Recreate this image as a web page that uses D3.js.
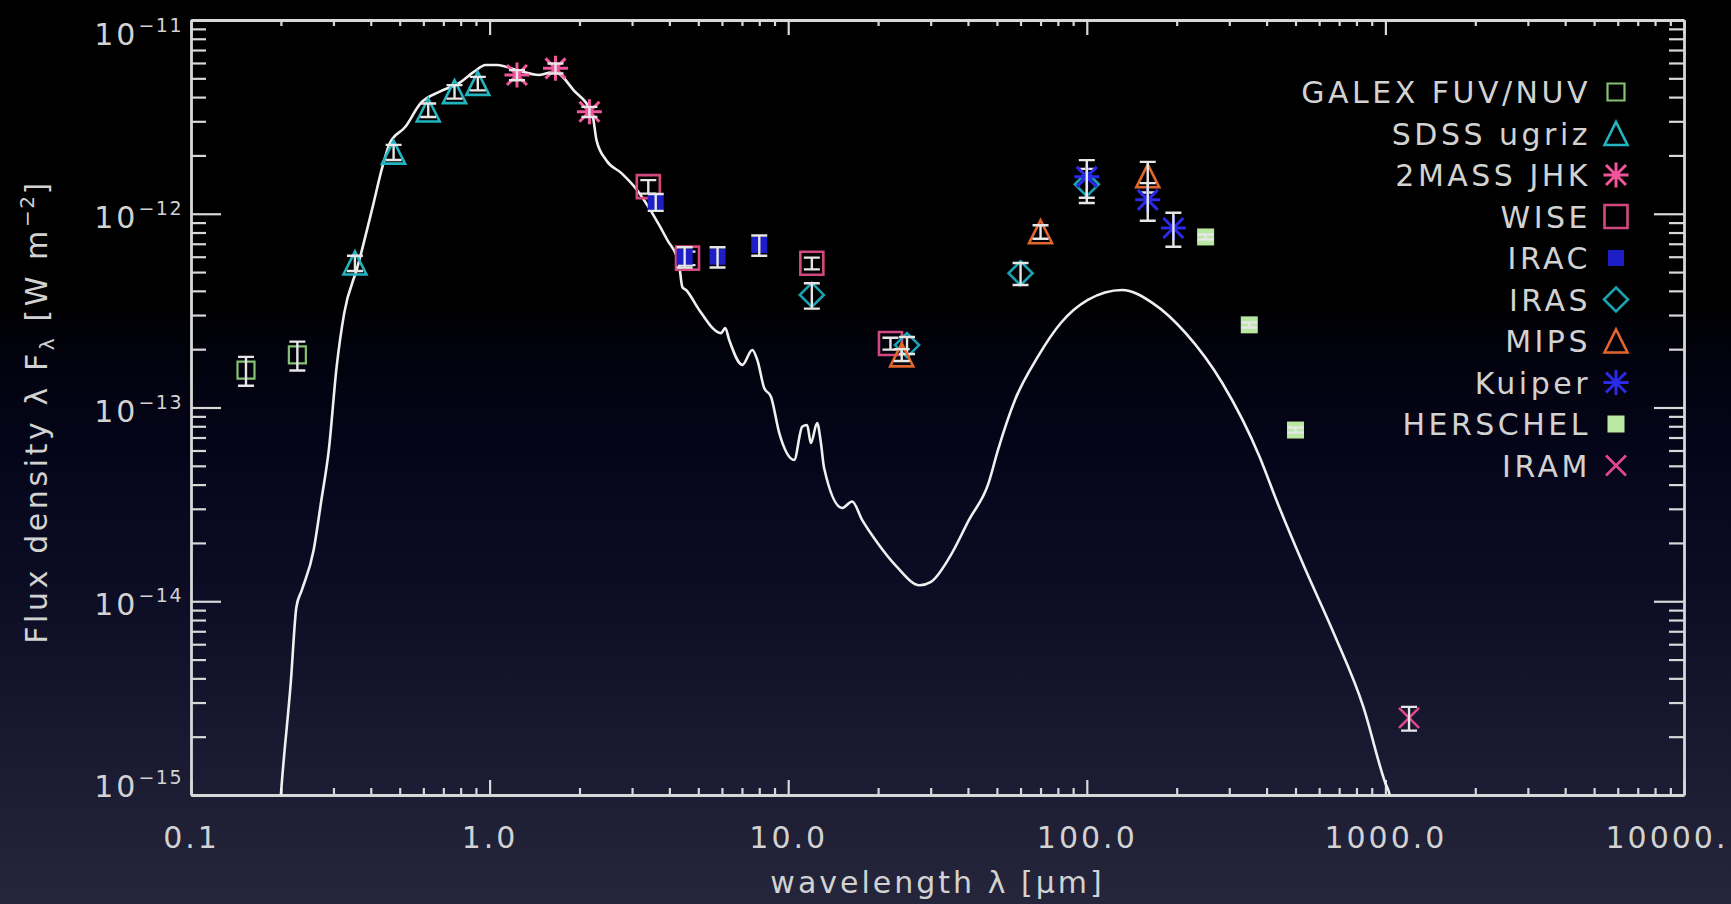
<!DOCTYPE html>
<html><head><meta charset="utf-8">
<script src="https://cdn.jsdelivr.net/npm/d3@7"></script>
<style>
html,body{margin:0;padding:0;background:#000;overflow:hidden;}
svg{display:block;}
</style></head>
<body>
<svg id="chart" width="1731" height="904"></svg>
<script>
// ================= DATA =================
// wavelength in micron, flux density lambda*F_lambda in W m^-2, err = relative error
const galexWave = [0.1528, 0.2271];
const galexFlux = [1.56e-13, 1.87e-13];
const galexErr  = [0.17, 0.17];

const sdssWave = [0.354, 0.477, 0.623, 0.763, 0.913];
const sdssFlux = [5.57e-13, 2.08e-12, 3.43e-12, 4.27e-12, 4.71e-12];
const sdssErr  = [0.09, 0.09, 0.08, 0.08, 0.08];

const twomassWave = [1.235, 1.662, 2.159];
const twomassFlux = [5.20e-12, 5.63e-12, 3.36e-12];
const twomassErr  = [0.06, 0.06, 0.06];

const wiseWave = [3.4, 4.6, 12, 22];
const wiseFlux = [1.38e-12, 5.9e-13, 5.55e-13, 2.14e-13];
const wiseErr  = [0.08, 0.08, 0.07, 0.07];

const iracWave = [3.6, 4.5, 5.8, 8.0];
const iracFlux = [1.15e-12, 6.0e-13, 6.0e-13, 6.9e-13];
const iracErr  = [0.10, 0.12, 0.12, 0.12];

const irasWave = [12, 25, 60, 100];
const irasFlux = [3.81e-13, 2.10e-13, 4.93e-13, 1.42e-12];
const irasErr  = [0.15, 0.10, 0.13, 0.20];

const mipsWave = [24, 70, 160];
const mipsFlux = [1.87e-13, 8.08e-13, 1.57e-12];
const mipsErr  = [0.07, 0.08, 0.18];

const kuiperWave = [100, 160, 195];
const kuiperFlux = [1.55e-12, 1.18e-12, 8.44e-13];
const kuiperErr  = [0.22, 0.22, 0.20];

const herschelWave = [250, 350, 500];
const herschelFlux = [7.59e-13, 2.67e-13, 7.65e-14];
const herschelErr  = [0.03, 0.03, 0.03];

const iramWave = [1200];
const iramFlux = [2.50e-15];
const iramErr  = [0.14];

// model SED (white curve)
const modelWave = [0.198, 0.200, 0.2158, 0.2255, 0.2350, 0.2575, 0.2733, 0.2894, 0.3074, 0.3258,
  0.3613, 0.4062, 0.4377, 0.463, 0.5224, 0.5877, 0.6805, 0.7876, 0.8876, 0.9696,
  1.059, 1.227, 1.465, 1.650, 1.910, 2.211, 2.280, 2.458, 2.764, 3.112,
  3.501, 3.937, 4.302, 4.42, 4.55, 5.04, 5.955, 6.155, 6.345, 7.02,
  7.58, 7.88, 8.31, 8.75, 9.33, 10.47, 11.14, 11.57, 11.91, 12.50,
  12.87, 13.19, 15.16, 16.37, 17.68, 19.92, 23.08, 27.55, 30.08, 34.81,
  40.31, 46.84, 50.40, 57.43, 68.57, 81.85, 100.8, 131.3, 166.2, 214.4,
  284.9, 378.9, 431.3, 534.4, 671.6, 843.6, 1000, 1030, 1045];
const modelFlux = [8.0e-16, 1.0e-15, 3.79e-15, 9.37e-15, 1.14e-14, 1.84e-14, 3.33e-14, 6.03e-14, 1.62e-13, 3.06e-13,
  5.33e-13, 1.09e-12, 1.75e-12, 2.31e-12, 2.81e-12, 3.72e-12, 4.27e-12, 4.71e-12, 5.41e-12, 5.86e-12,
  5.86e-12, 5.52e-12, 5.20e-12, 5.41e-12, 4.35e-12, 3.23e-12, 2.40e-12, 1.89e-12, 1.62e-12, 1.33e-12,
  1.01e-12, 7.32e-13, 5.57e-13, 4.19e-13, 4.04e-13, 3.18e-13, 2.42e-13, 2.57e-13, 2.23e-13, 1.66e-13,
  1.98e-13, 1.76e-13, 1.26e-13, 1.14e-13, 7.39e-14, 5.36e-14, 7.96e-14, 8.12e-14, 6.56e-14, 8.32e-14,
  6.56e-14, 4.87e-14, 3.03e-14, 3.27e-14, 2.63e-14, 2.00e-14, 1.51e-14, 1.21e-14, 1.26e-14, 1.70e-14,
  2.63e-14, 4.06e-14, 6.03e-14, 1.09e-13, 1.83e-13, 2.73e-13, 3.59e-13, 4.04e-13, 3.46e-13, 2.42e-13,
  1.33e-13, 5.57e-14, 3.33e-14, 1.51e-14, 6.83e-15, 2.85e-15, 1.15e-15, 1.02e-15, 9.0e-16];

const legendLabels = ["GALEX FUV/NUV", "SDSS ugriz", "2MASS JHK", "WISE", "IRAC",
                      "IRAS", "MIPS", "Kuiper", "HERSCHEL", "IRAM"];

const xTickValues = [0.1, 1, 10, 100, 1000, 10000];
const xTickLabels = ["0.1", "1.0", "10.0", "100.0", "1000.0", "10000."];
const yTickValues = [1e-15, 1e-14, 1e-13, 1e-12, 1e-11];
const yTickExponents = ["\u221215", "\u221214", "\u221213", "\u221212", "\u221211"];

const xTitle = "wavelength \u03bb [\u03bcm]";

// ================= STYLE =================
const series = [
  {wave: galexWave, flux: galexFlux, err: galexErr},
  {wave: sdssWave, flux: sdssFlux, err: sdssErr},
  {wave: twomassWave, flux: twomassFlux, err: twomassErr},
  {wave: wiseWave, flux: wiseFlux, err: wiseErr},
  {wave: iracWave, flux: iracFlux, err: iracErr},
  {wave: irasWave, flux: irasFlux, err: irasErr},
  {wave: mipsWave, flux: mipsFlux, err: mipsErr},
  {wave: kuiperWave, flux: kuiperFlux, err: kuiperErr},
  {wave: herschelWave, flux: herschelFlux, err: herschelErr},
  {wave: iramWave, flux: iramFlux, err: iramErr}
];
const styles = [
  {sym: 'square',   s: 8.5,  color: '#86c272', fill: false, sw: 2.2},
  {sym: 'triangle', s: 11.5, color: '#22b4c0', fill: false, sw: 2.6},
  {sym: 'asterisk', s: 12.5, color: '#f2559c', fill: false, sw: 3},
  {sym: 'square',   s: 11.5, color: '#d2487f', fill: false, sw: 2.6},
  {sym: 'square',   s: 8,    color: '#1e1ec6', fill: true,  sw: 0},
  {sym: 'diamond',  s: 12,   color: '#1aa2b2', fill: false, sw: 2.6},
  {sym: 'triangle', s: 11.5, color: '#e2662a', fill: false, sw: 2.6},
  {sym: 'asterisk', s: 12.5, color: '#2a2ae8', fill: false, sw: 3},
  {sym: 'square',   s: 8.5,  color: '#b8e8a2', fill: true,  sw: 0},
  {sym: 'x',        s: 10,   color: '#e2468e', fill: false, sw: 2.6}
];

const W = 1731, H = 904;
const M = {left: 191, right: 1684, top: 20, bottom: 795};
const FONT = '"DejaVu Sans", "Liberation Sans", sans-serif';
const TEXT = '#d2d2d2';
const AXIS = '#d8d8d8';

const x = d3.scaleLog().domain([0.1, 10000]).range([M.left, M.right]);
const y = d3.scaleLog().domain([1e-15, 1e-11]).range([M.bottom, M.top]);

const svg = d3.select('#chart');
const defs = svg.append('defs');
const grad = defs.append('linearGradient').attr('id', 'bg')
  .attr('x1', 0).attr('y1', 0).attr('x2', 0).attr('y2', 1);
[[0, '#000000'], [0.34, '#000000'], [0.36, '#010109'], [0.5, '#05051a'],
 [0.65, '#0c0c24'], [0.8, '#171730'], [1, '#25253b']]
  .forEach(([o, c]) => grad.append('stop').attr('offset', o).attr('stop-color', c));
svg.append('rect').attr('width', W).attr('height', H).attr('fill', 'url(#bg)');
defs.append('clipPath').attr('id', 'plotclip').append('rect')
  .attr('x', M.left).attr('y', M.top)
  .attr('width', M.right - M.left).attr('height', M.bottom - M.top);

// minor tick positions
const xMinor = [];
for (let e = -1; e < 4; e++) for (let m = 2; m < 10; m++) xMinor.push(m * Math.pow(10, e));
const yMinor = [];
for (let e = -15; e < -11; e++) for (let m = 2; m < 10; m++) yMinor.push(m * Math.pow(10, e));

function styleAxis(g, keepDomain) {
  g.selectAll('.tick line').attr('stroke', AXIS).attr('stroke-width', 2.2);
  g.select('.domain').attr('stroke', keepDomain ? AXIS : 'none').attr('stroke-width', 2.8);
  g.selectAll('text').attr('fill', TEXT).attr('font-size', 30)
    .attr('font-family', FONT).attr('letter-spacing', 3);
}

// bottom axis
const gB = svg.append('g').attr('transform', `translate(0,${M.bottom})`);
gB.append('g').call(d3.axisBottom(x).tickValues(xMinor).tickSizeInner(-7).tickSizeOuter(0).tickFormat(''))
  .call(g => styleAxis(g, false));
gB.append('g').call(d3.axisBottom(x).tickValues(xTickValues).tickSizeInner(-15).tickSizeOuter(0)
  .tickPadding(32).tickFormat((d, i) => xTickLabels[i]))
  .call(g => styleAxis(g, true))
  .call(g => g.selectAll('.tick text').filter((d, i) => i === xTickValues.length - 1)
    .attr('text-anchor', 'end').attr('dx', 44));
// top axis
const gT = svg.append('g').attr('transform', `translate(0,${M.top})`);
gT.append('g').call(d3.axisTop(x).tickValues(xMinor).tickSizeInner(-6).tickSizeOuter(0).tickFormat(''))
  .call(g => styleAxis(g, false));
gT.append('g').call(d3.axisTop(x).tickValues(xTickValues).tickSizeInner(-15).tickSizeOuter(0).tickFormat(''))
  .call(g => styleAxis(g, true));
// left axis
const gL = svg.append('g').attr('transform', `translate(${M.left},0)`);
gL.append('g').call(d3.axisLeft(y).tickValues(yMinor).tickSizeInner(-15).tickSizeOuter(0).tickFormat(''))
  .call(g => styleAxis(g, false));
gL.append('g').call(d3.axisLeft(y).tickValues(yTickValues).tickSizeInner(-30).tickSizeOuter(0).tickFormat(''))
  .call(g => styleAxis(g, true));
// right axis
const gR = svg.append('g').attr('transform', `translate(${M.right},0)`);
gR.append('g').call(d3.axisRight(y).tickValues(yMinor).tickSizeInner(-15).tickSizeOuter(0).tickFormat(''))
  .call(g => styleAxis(g, false));
gR.append('g').call(d3.axisRight(y).tickValues(yTickValues).tickSizeInner(-30).tickSizeOuter(0).tickFormat(''))
  .call(g => styleAxis(g, true));

// y tick labels 10^-n
yTickValues.forEach((v, i) => {
  const last = yTickValues.length - 1;
  const dy = i === last ? 25 : (i === 0 ? 2 : 14);
  const t = svg.append('text').attr('x', M.left - 8).attr('y', y(v) + dy)
    .attr('text-anchor', 'end').attr('fill', TEXT).attr('font-family', FONT)
    .attr('font-size', 30).attr('letter-spacing', 3);
  t.append('tspan').text('10');
  t.append('tspan').attr('font-size', 19).attr('dy', -13).attr('letter-spacing', 1.5).text(yTickExponents[i]);
});

// axis titles
svg.append('text').attr('x', (M.left + M.right) / 2).attr('y', 893)
  .attr('text-anchor', 'middle').attr('fill', TEXT).attr('font-family', FONT)
  .attr('font-size', 30).attr('letter-spacing', 3).text(xTitle);

const yt = svg.append('text').attr('transform', `translate(47,${(M.top + M.bottom) / 2 + 4}) rotate(-90)`)
  .attr('text-anchor', 'middle').attr('fill', TEXT).attr('font-family', FONT)
  .attr('font-size', 30).attr('letter-spacing', 3.6);
yt.append('tspan').text('Flux density \u03bb F');
yt.append('tspan').attr('font-size', 20).attr('dy', 7).text('\u03bb');
yt.append('tspan').attr('dy', -7).text(' [W m');
yt.append('tspan').attr('font-size', 20).attr('dy', -13).attr('letter-spacing', 1.5).text('\u22122');
yt.append('tspan').attr('dy', 13).text(']');

// model curve
const line = d3.line().x(d => x(d[0])).y(d => y(d[1])).curve(d3.curveMonotoneX);
const modelPts = modelWave.map((w, i) => [w, modelFlux[i]]);
svg.append('g').attr('clip-path', 'url(#plotclip)').append('path')
  .attr('d', line(modelPts)).attr('fill', 'none')
  .attr('stroke', '#f0f0f0').attr('stroke-width', 2.6).attr('stroke-linejoin', 'round');

// symbols
function symPath(type, s) {
  switch (type) {
    case 'square': return `M${-s},${-s}H${s}V${s}H${-s}Z`;
    case 'triangle': return `M${-s},${s}L0,${-s}L${s},${s}Z`;
    case 'diamond': return `M0,${-s}L${s},0L0,${s}L${-s},0Z`;
    case 'asterisk': { const a = s * 0.8; return `M${-s},0H${s}M0,${-s}V${s}M${-a},${-a}L${a},${a}M${-a},${a}L${a},${-a}`; }
    case 'x': return `M${-s},${-s}L${s},${s}M${-s},${s}L${s},${-s}`;
  }
}
function drawSym(g, st, cx, cy) {
  const p = g.append('path').attr('d', symPath(st.sym, st.s))
    .attr('transform', `translate(${cx},${cy})`);
  if (st.fill) p.attr('fill', st.color).attr('stroke', 'none');
  else p.attr('fill', 'none').attr('stroke', st.color).attr('stroke-width', st.sw).attr('stroke-linejoin', 'miter');
}

const gData = svg.append('g').attr('clip-path', 'url(#plotclip)');
series.forEach((sr, k) => {
  const st = styles[k];
  const gs = gData.append('g');
  sr.wave.forEach((w, i) => drawSym(gs, st, x(w), y(sr.flux[i])));
  // error bars
  sr.wave.forEach((w, i) => {
    const cx = x(w), y1 = y(sr.flux[i] * (1 - sr.err[i])), y2 = y(sr.flux[i] * (1 + sr.err[i]));
    const cap = 8;
    gs.append('path')
      .attr('d', `M${cx},${y1}V${y2}M${cx - cap},${y1}H${cx + cap}M${cx - cap},${y2}H${cx + cap}`)
      .attr('stroke', '#e6e6e6').attr('stroke-width', 2.4).attr('fill', 'none');
  });
});

// legend
const gLeg = svg.append('g');
legendLabels.forEach((lab, i) => {
  const cy = 92 + i * 41.5;
  gLeg.append('text').attr('x', 1591).attr('y', cy + 11).attr('text-anchor', 'end')
    .attr('fill', TEXT).attr('font-family', FONT).attr('font-size', 30)
    .attr('letter-spacing', 3.5).text(lab);
  drawSym(gLeg, styles[i], 1616, cy);
});
</script>
</body></html>
